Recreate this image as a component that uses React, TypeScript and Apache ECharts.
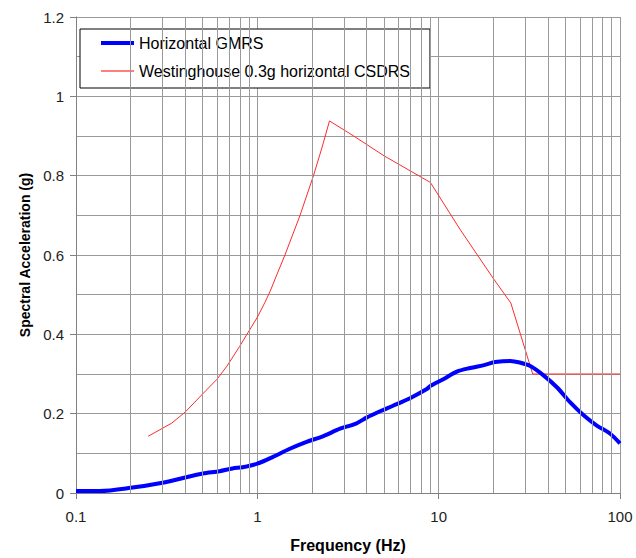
import React, { useEffect, useRef } from "react";
import * as echarts from "echarts";

const gmrsFreq = [0.1, 0.135, 0.2, 0.3, 0.4, 0.5, 0.62, 0.73, 0.83, 1.0, 1.22, 1.5, 1.87, 2.3, 2.86, 3.5, 4.0, 4.75, 5.6, 6.95, 8.6, 9.0, 10.6, 12.6, 14.9, 18, 20.5, 24.8, 28, 32, 38, 45, 53, 63, 74.5, 88, 100];
const gmrsAccel = [0.005, 0.005, 0.013, 0.026, 0.039, 0.049, 0.055, 0.062, 0.065, 0.074, 0.091, 0.111, 0.129, 0.143, 0.162, 0.175, 0.19, 0.206, 0.22, 0.239, 0.262, 0.27, 0.287, 0.306, 0.315, 0.323, 0.33, 0.333, 0.329, 0.32, 0.296, 0.266, 0.229, 0.196, 0.17, 0.15, 0.125];

const csdrsFreq = [0.25, 0.337, 0.4, 0.5, 0.6, 0.68, 0.8, 0.89, 1.0, 1.1, 1.175, 1.28, 1.42, 1.72, 2.04, 2.27, 2.5, 3.4, 5.0, 9.0, 13.1, 20.0, 25.0, 33.0, 100];
const csdrsAccel = [0.143, 0.176, 0.204, 0.25, 0.287, 0.32, 0.37, 0.405, 0.443, 0.48, 0.508, 0.55, 0.6, 0.7, 0.8, 0.87, 0.938, 0.9, 0.85, 0.783, 0.665, 0.541, 0.479, 0.3, 0.3];

const minorGridFreq = [0.2, 0.3, 0.4, 0.5, 0.6, 0.7, 0.8, 0.9, 2, 3, 4, 5, 6, 7, 8, 9, 20, 30, 40, 50, 60, 70, 80, 90];

const seriesNames = ["Horizontal GMRS", "Westinghouse 0.3g horizontal CSDRS"];
const xTitle = "Frequency (Hz)";
const yTitle = "Spectral Acceleration (g)";

const FONT = "'Liberation Sans', Arial, sans-serif";

export default function App() {
  const ref = useRef<HTMLDivElement>(null);
  useEffect(() => {
    if (!ref.current) return;
    const chart = echarts.init(ref.current, null, { renderer: "svg" });
    const gridColor = "#9a9a9a";
    chart.setOption({
      animation: false,
      backgroundColor: "#ffffff",
      textStyle: { fontFamily: FONT },
      grid: { left: 76, right: 16, top: 17, bottom: 61, containLabel: false },
      legend: {
        show: true,
        orient: "vertical",
        left: 80,
        top: 29,
        padding: [6, 20, 9, 21],
        itemGap: 12,
        itemWidth: 33,
        itemHeight: 4,
        symbolKeepAspect: true,
        backgroundColor: "#ffffff",
        borderColor: "#000000",
        borderWidth: 1,
        borderRadius: 0,
        selectedMode: false,
        textStyle: { fontSize: 16, color: "#000", fontFamily: FONT },
        data: [
          { name: seriesNames[0], icon: "path://M0,0H33V4H0Z" },
          { name: seriesNames[1], icon: "path://M0,0H33V1H0Z" },
        ],
      },
      xAxis: {
        type: "log",
        logBase: 10,
        min: 0.1,
        max: 100,
        name: xTitle,
        nameLocation: "middle",
        nameGap: 44,
        nameTextStyle: { fontSize: 16, fontWeight: "bold", color: "#000", fontFamily: FONT },
        axisLine: { show: true, lineStyle: { color: "#808080", width: 1 } },
        axisTick: { show: true, inside: false, length: 6, lineStyle: { color: "#808080" } },
        axisLabel: { fontSize: 15, color: "#222", margin: 16, fontFamily: FONT },
        splitLine: { show: true, lineStyle: { color: gridColor, width: 1 } },
      },
      yAxis: {
        type: "value",
        min: 0,
        max: 1.2,
        interval: 0.2,
        name: yTitle,
        nameLocation: "middle",
        nameGap: 44,
        nameTextStyle: { fontSize: 14, fontWeight: "bold", color: "#000", fontFamily: FONT },
        axisLine: { show: true, lineStyle: { color: "#808080", width: 1 } },
        axisTick: { show: true, inside: false, length: 6, lineStyle: { color: "#808080" } },
        axisLabel: { fontSize: 15, color: "#222", margin: 12, fontFamily: FONT },
        splitLine: { show: true, lineStyle: { color: gridColor, width: 1 } },
        minorTick: { show: false, splitNumber: 2 },
        minorSplitLine: { show: true, lineStyle: { color: gridColor, width: 1 } },
      },
      series: [
        {
          name: "minorGrid",
          type: "line",
          data: [],
          z: 1,
          silent: true,
          markLine: {
            silent: true,
            symbol: ["none", "none"],
            label: { show: false },
            lineStyle: { color: gridColor, width: 1, type: "solid" },
            emphasis: { disabled: true },
            data: minorGridFreq.map((f) => ({ xAxis: f })),
          },
        },
        {
          name: seriesNames[1],
          type: "line",
          data: csdrsFreq.map((f, i) => [f, csdrsAccel[i]]),
          showSymbol: false,
          symbol: "none",
          z: 3,
          lineStyle: { color: "#ff2a2a", width: 1 },
          itemStyle: { color: "#ff0000" },
        },
        {
          name: seriesNames[0],
          type: "line",
          data: gmrsFreq.map((f, i) => [f, gmrsAccel[i]]),
          showSymbol: false,
          symbol: "none",
          smooth: 0.3,
          z: 4,
          lineStyle: { color: "#0000ff", width: 4 },
          itemStyle: { color: "#0000ff" },
        },
      ],
    });
    return () => chart.dispose();
  }, []);
  return (
    <div
      ref={ref}
      style={{ position: "absolute", left: 0, top: 0, width: 636, height: 558 }}
    />
  );
}
